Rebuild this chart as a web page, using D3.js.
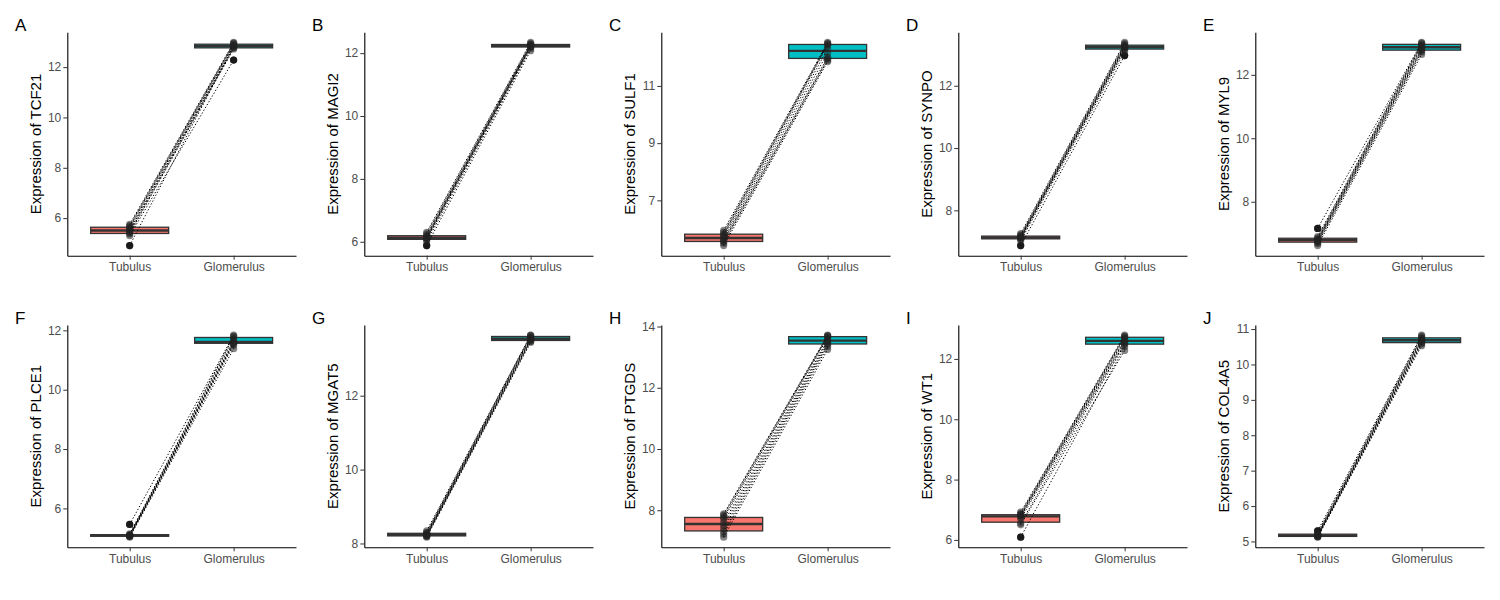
<!DOCTYPE html>
<html><head><meta charset="utf-8">
<script src="https://cdn.jsdelivr.net/npm/d3@7"></script>
<style>body{margin:0;background:#fff} svg{display:block}</style>
</head><body><svg id="c" width="1500" height="600"></svg>
<script>
const categories = ["Tubulus", "Glomerulus"];
const panelLetters = ["A","B","C","D","E","F","G","H","I","J"];
const genes = ["TCF21","MAGI2","SULF1","SYNPO","MYL9","PLCE1","MGAT5","PTGDS","WT1","COL4A5"];
// paired samples: index i of tubulus matches index i of glomerulus
const tubulusValues = [
  [4.91, 5.30, 5.38, 5.42, 5.50, 5.52, 5.60, 5.65, 5.70, 5.75],
  [5.88, 6.00, 6.07, 6.10, 6.12, 6.14, 6.17, 6.20, 6.25, 6.30],
  [5.42, 5.50, 5.55, 5.60, 5.65, 5.72, 5.78, 5.83, 5.88, 5.95],
  [6.87, 7.02, 7.08, 7.10, 7.12, 7.13, 7.15, 7.18, 7.21, 7.25],
  [6.62, 6.68, 6.72, 6.75, 6.78, 6.80, 6.82, 6.86, 6.90, 7.16],
  [5.03, 5.05, 5.06, 5.07, 5.08, 5.09, 5.10, 5.12, 5.14, 5.46],
  [8.17, 8.19, 8.20, 8.22, 8.23, 8.24, 8.26, 8.28, 8.30, 8.34],
  [7.12, 7.22, 7.30, 7.40, 7.50, 7.60, 7.72, 7.78, 7.84, 7.88],
  [6.09, 6.50, 6.55, 6.70, 6.76, 6.80, 6.82, 6.84, 6.88, 6.92],
  [5.12, 5.13, 5.14, 5.15, 5.16, 5.17, 5.19, 5.21, 5.24, 5.30]
];
const glomerulusValues = [
  [12.85, 12.28, 12.72, 12.76, 12.78, 12.82, 12.88, 12.92, 12.95, 12.98],
  [12.08, 12.15, 12.19, 12.21, 12.23, 12.24, 12.26, 12.28, 12.31, 12.34],
  [11.85, 11.90, 11.95, 12.00, 12.15, 12.30, 12.42, 12.46, 12.49, 12.52],
  [12.97, 13.10, 13.17, 13.20, 13.23, 13.25, 13.28, 13.31, 13.35, 13.39],
  [12.64, 12.72, 12.77, 12.80, 12.85, 12.89, 12.93, 12.97, 13.00, 13.02],
  [11.38, 11.50, 11.56, 11.58, 11.60, 11.62, 11.70, 11.78, 11.81, 11.84],
  [13.44, 13.47, 13.49, 13.51, 13.53, 13.55, 13.58, 13.61, 13.63, 13.64],
  [13.25, 13.35, 13.42, 13.46, 13.52, 13.56, 13.64, 13.68, 13.70, 13.72],
  [12.40, 12.28, 12.48, 12.52, 12.58, 12.62, 12.68, 12.73, 12.76, 12.79],
  [10.53, 10.58, 10.61, 10.64, 10.67, 10.70, 10.73, 10.76, 10.80, 10.83]
];
const yTickValues = [
  [6, 8, 10, 12], [6, 8, 10, 12], [7, 9, 11], [8, 10, 12], [8, 10, 12],
  [6, 8, 10, 12], [8, 10, 12], [8, 10, 12, 14], [6, 8, 10, 12], [5, 6, 7, 8, 9, 10, 11]
];
const fillColors = ["#F8766D", "#00BFC4"];

const svg = d3.select("#c");
const font = "'Liberation Sans', Arial, sans-serif";
const panelW = 297;
const rows = [
  {top: 32.3, bottom: 255.7, letterY: 30.5},
  {top: 325, bottom: 547.3, letterY: 324}
];

function boxStats(vals) {
  const s = vals.slice().sort(d3.ascending);
  const q1 = d3.quantileSorted(s, 0.25), med = d3.quantileSorted(s, 0.5), q3 = d3.quantileSorted(s, 0.75);
  const iqr = q3 - q1, lo = q1 - 1.5 * iqr, hi = q3 + 1.5 * iqr;
  const inside = s.filter(v => v >= lo && v <= hi);
  return {q1, med, q3, wlo: d3.min(inside), whi: d3.max(inside), out: s.filter(v => v < lo || v > hi)};
}

genes.forEach((gene, i) => {
  const r = Math.floor(i / 5), c = i % 5;
  const px = c * panelW;
  const L = px + 67.3, R = px + 296;
  const T = rows[r].top, B = rows[r].bottom;
  const tub = tubulusValues[i], glom = glomerulusValues[i];
  const groups = [tub, glom];
  const [mn, mx] = d3.extent(tub.concat(glom));
  const pad = (mx - mn) * 0.05;
  const y = d3.scaleLinear().domain([mn - pad, mx + pad]).range([B, T]);
  const x = d3.scalePoint().domain(categories).range([L, R]).padding(0.6);
  const bw = 0.75 * x.step();
  const g = svg.append("g");

  // y axis
  const ya = g.append("g").attr("transform", `translate(${L},0)`)
    .call(d3.axisLeft(y).tickValues(yTickValues[i]).tickFormat(d3.format("d"))
      .tickSize(4).tickSizeOuter(0).tickPadding(2));
  // x axis
  const xa = g.append("g").attr("transform", `translate(0,${B})`)
    .call(d3.axisBottom(x).tickSize(4).tickSizeOuter(0).tickPadding(3));
  [ya, xa].forEach(a => {
    a.select(".domain").attr("stroke", "#000").attr("stroke-width", 1.1);
    a.selectAll(".tick line").attr("stroke", "#333").attr("stroke-width", 1);
    a.selectAll(".tick text").attr("fill", "#4D4D4D").style("font-family", font).style("font-size", "12px");
  });

  // boxes
  categories.forEach((cat, k) => {
    const st = boxStats(groups[k]);
    const cx = x(cat);
    g.append("line").attr("x1", cx).attr("x2", cx).attr("y1", y(st.whi)).attr("y2", y(st.q3))
      .attr("stroke", "#333").attr("stroke-width", 1.1);
    g.append("line").attr("x1", cx).attr("x2", cx).attr("y1", y(st.q1)).attr("y2", y(st.wlo))
      .attr("stroke", "#333").attr("stroke-width", 1.1);
    g.append("rect").attr("x", cx - bw / 2).attr("width", bw)
      .attr("y", y(st.q3)).attr("height", Math.max(0.5, y(st.q1) - y(st.q3)))
      .attr("fill", fillColors[k]).attr("stroke", "#333").attr("stroke-width", 1.3);
    g.append("line").attr("x1", cx - bw / 2).attr("x2", cx + bw / 2).attr("y1", y(st.med)).attr("y2", y(st.med))
      .attr("stroke", "#333").attr("stroke-width", 2.4);
    g.selectAll(null).data(st.out).enter().append("circle")
      .attr("cx", cx).attr("cy", d => y(d)).attr("r", 3.6).attr("fill", "#111");
  });

  // paired lines
  g.selectAll(null).data(d3.range(tub.length)).enter().append("line")
    .attr("x1", x(categories[0])).attr("y1", j => y(tub[j]))
    .attr("x2", x(categories[1])).attr("y2", j => y(glom[j]))
    .attr("stroke", "#000").attr("stroke-width", 1).attr("stroke-dasharray", "1.3,2");

  // points
  categories.forEach((cat, k) => {
    g.selectAll(null).data(groups[k]).enter().append("circle")
      .attr("cx", x(cat)).attr("cy", d => y(d)).attr("r", 3.6)
      .attr("fill", "#222").attr("fill-opacity", 0.55);
  });

  // y title
  g.append("text").attr("transform", `translate(${px + 40.5},${(T + B) / 2}) rotate(-90)`)
    .attr("text-anchor", "middle").style("font-family", font).style("font-size", "15px")
    .attr("fill", "#000").text("Expression of " + gene);

  // panel letter
  g.append("text").attr("x", px + 15).attr("y", rows[r].letterY)
    .style("font-family", font).style("font-size", "17px").attr("fill", "#000").text(panelLetters[i]);
});
</script></body></html>
